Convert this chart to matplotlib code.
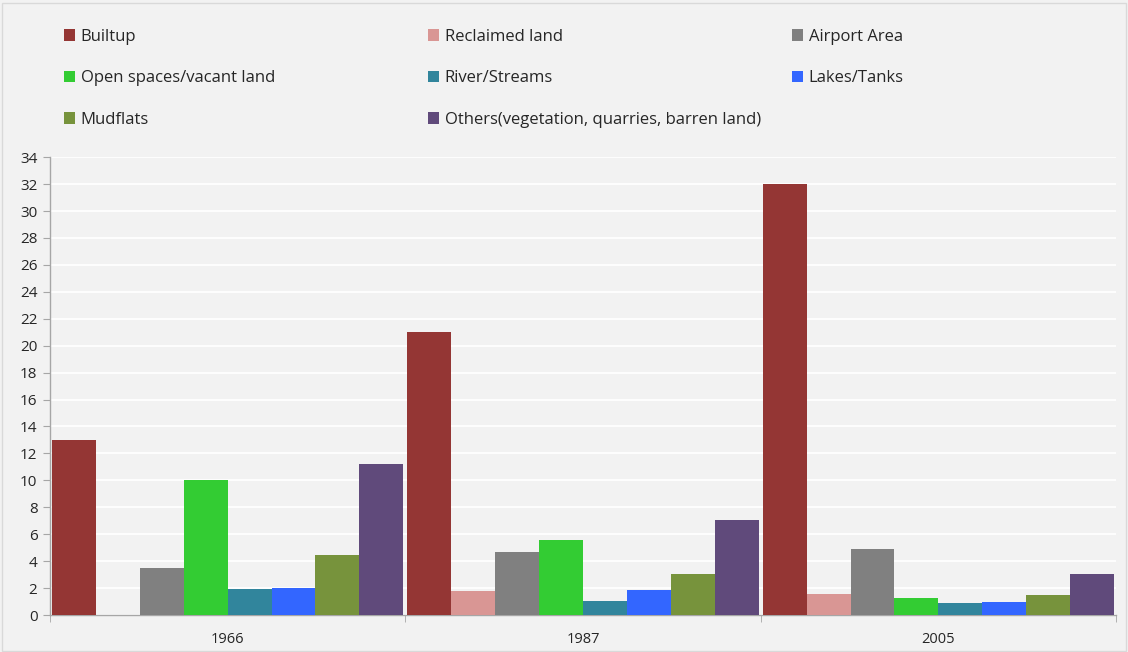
import matplotlib
matplotlib.use("Agg")
import matplotlib.pyplot as plt
from matplotlib.patches import Rectangle
import numpy as np

# land use share per year, grouped bar chart
years = ["1966", "1987", "2005"]
classes = ["Builtup", "Reclaimed land", "Airport Area", "Open spaces/vacant land",
           "River/Streams", "Lakes/Tanks", "Mudflats",
           "Others(vegetation, quarries, barren land)"]
builtup = [13.0, 21.0, 32.0]
reclaimed = [0.0, 1.75, 1.56]
airport = [3.47, 4.65, 4.87]
open_space = [10.0, 5.6, 1.23]
river = [1.96, 1.07, 0.92]
lakes = [2.03, 1.89, 0.99]
mudflats = [4.48, 3.02, 1.5]
others = [11.19, 7.03, 3.07]
yticks = list(range(0, 35, 2))

series = [builtup, reclaimed, airport, open_space, river, lakes, mudflats, others]
colors = ["#943634", "#d99694", "#808080", "#33cc33",
          "#31859c", "#3366ff", "#77933c", "#604a7b"]

plt.rcParams['font.family'] = ['Open Sans', 'DejaVu Sans']
bg = "#f2f2f2"

fig = plt.figure(figsize=(11.28, 6.52), dpi=100, facecolor=bg)
fig.patches.append(Rectangle((0.002, 0.002), 0.996, 0.994, transform=fig.transFigure,
                             fill=False, edgecolor="#d9d9d9", linewidth=1))
ax = fig.add_axes([0.0443, 0.0567, 0.9451, 0.7023])
ax.set_facecolor(bg)

n = len(series)
w = 0.1236
centers = np.arange(len(years)) + 0.5
handles = []
for i, (vals, c) in enumerate(zip(series, colors)):
    b = ax.bar(centers + (i - (n - 1) / 2) * w, vals, width=w, color=c,
               label=classes[i], zorder=3, linewidth=0)
    handles.append(b)

ax.set_xlim(0, len(years))
ax.set_ylim(0, 34)
ax.set_yticks(yticks)
ax.set_xticks(centers)
ax.set_xticklabels(years)
ax.set_xticks(np.arange(len(years) + 1), minor=True)
ax.tick_params(axis='x', which='major', length=0, pad=12, labelsize=10.5, colors="#262626")
ax.tick_params(axis='x', which='minor', length=5, color="#a6a6a6", direction='out')
ax.tick_params(axis='y', length=5, color="#a6a6a6", labelsize=11, colors="#262626", pad=4)
ax.yaxis.grid(True, color="white", linewidth=1.3, zorder=0)
ax.set_axisbelow(True)
for s in ["top", "right"]:
    ax.spines[s].set_visible(False)
for s in ["left", "bottom"]:
    ax.spines[s].set_color("#a6a6a6")
    ax.spines[s].set_linewidth(1)

# legend laid out row by row in three fixed columns
columns = [[0, 3, 6], [1, 4, 7], [2, 5]]
col_x = [64, 428, 792]
for idx, x0 in zip(columns, col_x):
    leg = fig.legend([handles[k] for k in idx], [classes[k] for k in idx],
                     loc="upper left", bbox_to_anchor=(x0 / 1128, 0.9555),
                     frameon=False, fontsize=12, handlelength=0.68, handleheight=0.68,
                     handletextpad=0.33, labelspacing=1.52, borderpad=0,
                     borderaxespad=0, labelcolor="#262626")

fig.savefig("out.png", dpi=100, facecolor=bg)
